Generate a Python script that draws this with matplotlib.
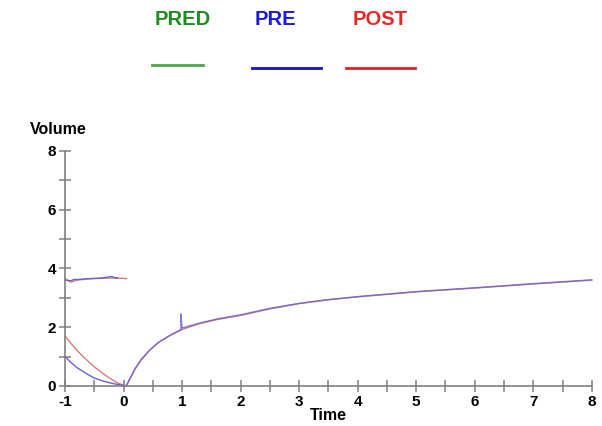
import matplotlib
matplotlib.use("Agg")
import matplotlib.pyplot as plt
from matplotlib.lines import Line2D

# ---- data ----
exp_t = [0.05, 0.1, 0.2, 0.3, 0.45, 0.6, 0.8, 1.0, 1.3, 1.6, 2.0, 2.5, 3.0, 3.5, 4.0, 5.0, 6.0, 7.0, 8.0]
post_exp_v = [0.0, 0.2, 0.58, 0.88, 1.22, 1.48, 1.72, 1.92, 2.12, 2.26, 2.4, 2.62, 2.8, 2.93, 3.03, 3.2, 3.33, 3.47, 3.6]
pre_exp_t = [0.0, 0.05, 0.1, 0.2, 0.3, 0.45, 0.6, 0.8, 0.98, 0.98, 1.0, 1.3, 1.6, 2.0, 2.5, 3.0, 3.5, 4.0, 5.0, 6.0, 7.0, 8.0]
pre_exp_v = [0.0, 0.02, 0.22, 0.6, 0.9, 1.23, 1.49, 1.73, 1.92, 2.45, 1.97, 2.14, 2.28, 2.42, 2.64, 2.81, 2.94, 3.04, 3.21, 3.34, 3.48, 3.61]

insp_t = [-1.0, -0.9, -0.8, -0.7, -0.6, -0.5, -0.4, -0.3, -0.2, -0.1, 0.0, 0.05]
pre_insp_v = [1.0, 0.8, 0.63, 0.5, 0.38, 0.27, 0.2, 0.14, 0.09, 0.05, 0.02, 0.0]
post_insp_v = [1.7, 1.45, 1.22, 1.02, 0.83, 0.65, 0.5, 0.35, 0.22, 0.1, 0.03, 0.0]

pre_top_t = [-1.0, -0.9, -0.85, -0.8, -0.6, -0.4, -0.2, -0.15, -0.1]
pre_top_v = [3.6, 3.58, 3.62, 3.62, 3.65, 3.67, 3.72, 3.68, 3.68]
post_top_t = [-1.0, -0.9, -0.8, -0.6, -0.4, -0.2, 0.0, 0.05]
post_top_v = [3.65, 3.53, 3.6, 3.64, 3.66, 3.67, 3.66, 3.65]

x_ticks = [-1, 0, 1, 2, 3, 4, 5, 6, 7, 8]
y_ticks = [0, 2, 4, 6, 8]
legend_names = ["PRED", "PRE", "POST"]

plt.rcParams['font.family'] = ['Liberation Sans', 'DejaVu Sans']

fig = plt.figure(figsize=(6.02, 4.26), dpi=100)
ax = fig.add_axes([0.108, 0.094, 0.875, 0.552])

pre_c = '#6464d2'
post_c = '#e07a7a'
ax.plot(insp_t, post_insp_v, color=post_c, lw=1.0, clip_on=False)
ax.plot(insp_t, pre_insp_v, color=pre_c, lw=1.0, clip_on=False)
ax.plot(post_top_t, post_top_v, color=post_c, lw=1.0, clip_on=False)
ax.plot(pre_top_t, pre_top_v, color=pre_c, lw=1.0, clip_on=False)
ax.plot(exp_t, post_exp_v, color=post_c, lw=1.0, clip_on=False)
ax.plot(pre_exp_t, pre_exp_v, color=pre_c, lw=1.0, alpha=0.85, clip_on=False)

ax.set_xlim(-1, 8)
ax.set_ylim(0, 8)
for s in ['top', 'right']:
    ax.spines[s].set_visible(False)
for s in ['left', 'bottom']:
    ax.spines[s].set_color('#808080')
    ax.spines[s].set_linewidth(1.2)

ax.set_xticks(x_ticks)
ax.set_xticklabels([str(v) for v in x_ticks])
ax.set_yticks(y_ticks)
ax.set_yticklabels([str(v) for v in y_ticks])
ax.set_xticks([v + 0.5 for v in x_ticks[:-1]], minor=True)
ax.set_yticks([1, 3, 5, 7], minor=True)
ax.tick_params(which='both', direction='inout', length=9, width=1.1, color='#808080',
               labelsize=11, pad=2)
for lab in ax.get_xticklabels() + ax.get_yticklabels():
    lab.set_fontweight('bold')

fig.text(0.097, 0.695, "Volume", ha='center', va='center', fontsize=11.5, fontweight='bold')
fig.text(0.545, 0.025, "Time", ha='center', va='center', fontsize=11.5, fontweight='bold')

# legend
txt_cols = ['#1e8c1e', '#1a1ad8', '#e82828']
line_cols = ['#4aa84a', '#1010c8', '#e02020']
txt_x = [0.304, 0.457, 0.632]
line_x = [(0.252, 0.337), (0.418, 0.533), (0.575, 0.690)]
line_y = [0.848, 0.840, 0.840]
for name, tc, lc, tx, lx, ly in zip(legend_names, txt_cols, line_cols, txt_x, line_x, line_y):
    fig.text(tx, 0.955, name, ha='center', va='center', color=tc, fontsize=14.5, fontweight='bold')
    fig.add_artist(Line2D(list(lx), [ly, ly], color=lc, lw=2.0, transform=fig.transFigure))

fig.savefig("out.png", dpi=100)
